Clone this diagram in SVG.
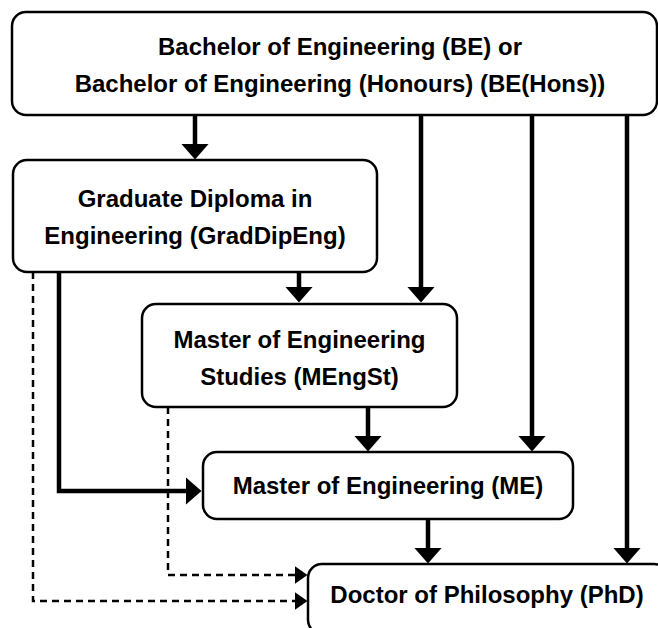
<svg xmlns="http://www.w3.org/2000/svg" width="658" height="628" viewBox="0 0 658 628">
<style>
.box{fill:#fff;stroke:#000;stroke-width:2.5}
.t{font-family:"Liberation Sans",Arial,sans-serif;font-weight:bold;font-size:24px;fill:#000;text-anchor:middle}
.c{fill:none;stroke:#000;stroke-width:4.5}
.d{fill:none;stroke:#000;stroke-width:2.5;stroke-dasharray:7 5}
</style>
<defs>
<marker id="ah" markerUnits="userSpaceOnUse" viewBox="0 0 16 28" markerWidth="16" markerHeight="28" refX="0.5" refY="14" orient="auto">
<path d="M0,0 L16,14 L0,28 Z" fill="#000"/>
</marker>
<marker id="dh" markerUnits="userSpaceOnUse" viewBox="0 0 13 18" markerWidth="13" markerHeight="18" refX="0.5" refY="9" orient="auto">
<path d="M0,0 L13,9 L0,18 Z" fill="#000"/>
</marker>
</defs>
<rect width="658" height="628" fill="#fff"/>
<g id="connectors">
<line class="c" x1="195" y1="115" x2="195" y2="144" marker-end="url(#ah)"/>
<line class="c" x1="421" y1="115" x2="421" y2="287" marker-end="url(#ah)"/>
<line class="c" x1="532" y1="115" x2="532" y2="436" marker-end="url(#ah)"/>
<line class="c" x1="627" y1="115" x2="627" y2="548" marker-end="url(#ah)"/>
<line class="c" x1="299" y1="272" x2="299" y2="287" marker-end="url(#ah)"/>
<line class="c" x1="368" y1="407" x2="368" y2="436" marker-end="url(#ah)"/>
<line class="c" x1="428" y1="519" x2="428" y2="548" marker-end="url(#ah)"/>
<polyline class="c" points="59,272 59,491 186,491" marker-end="url(#ah)"/>
<polyline class="d" points="33,272 33,601 295,601" marker-end="url(#dh)"/>
<polyline class="d" points="168,407 168,575 295,575" marker-end="url(#dh)"/>
</g>
<g id="be">
<rect class="box" x="12" y="12" width="645" height="103" rx="14"/>
<text class="t" x="340" y="55">Bachelor of Engineering (BE) or</text>
<text class="t" x="340" y="92">Bachelor of Engineering (Honours) (BE(Hons))</text>
</g>
<g id="graddip">
<rect class="box" x="13" y="160" width="364" height="112" rx="14"/>
<text class="t" x="195" y="207">Graduate Diploma in</text>
<text class="t" x="195" y="244">Engineering (GradDipEng)</text>
</g>
<g id="mengst">
<rect class="box" x="142" y="304" width="315" height="103" rx="14"/>
<text class="t" x="299.5" y="348">Master of Engineering</text>
<text class="t" x="299.5" y="385">Studies (MEngSt)</text>
</g>
<g id="me">
<rect class="box" x="203" y="452" width="370" height="67" rx="14"/>
<text class="t" x="388" y="494">Master of Engineering (ME)</text>
</g>
<g id="phd">
<rect class="box" x="308" y="564" width="360" height="70" rx="14"/>
<text class="t" x="487" y="603">Doctor of Philosophy (PhD)</text>
</g>
</svg>
